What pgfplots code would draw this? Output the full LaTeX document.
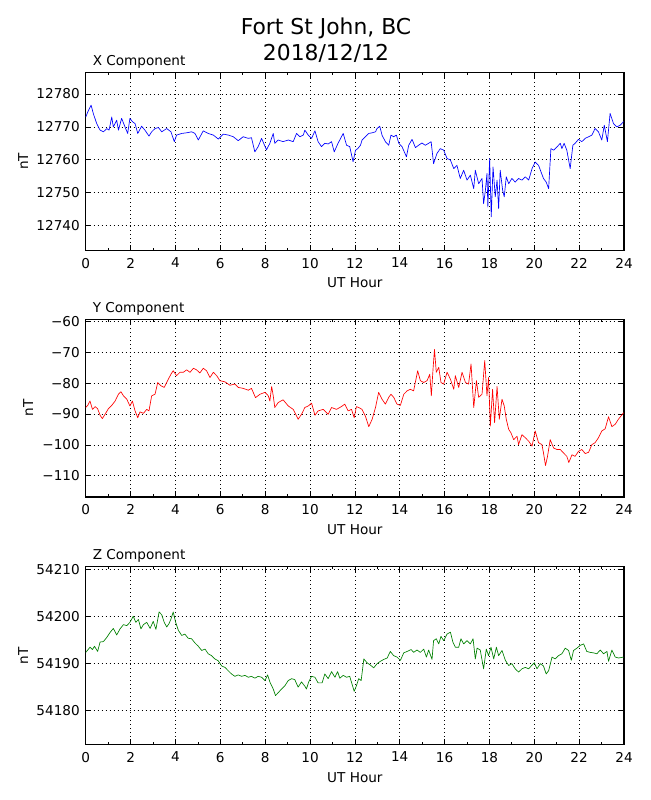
\documentclass[border=0pt]{standalone}
\usepackage{fontspec}
\setmainfont{DejaVu Sans}
\usepackage{pgfplots}
\usepackage{pgfplotstable}
\pgfplotsset{compat=1.18}

\pgfplotstableread{
h v
0.00 12773
0.12 12775
0.24 12776.6
0.34 12774
0.49 12771
0.64 12769
0.79 12768.5
0.94 12769.5
1.04 12769
1.16 12773
1.23 12770
1.38 12772
1.46 12769
1.60 12772.6
1.75 12770
1.87 12768
1.97 12772.6
2.08 12771.6
2.20 12771
2.32 12768
2.49 12770.2
2.64 12769
2.82 12767.2
2.94 12768.5
3.09 12769.5
3.24 12769.8
3.39 12768.5
3.61 12769.5
3.80 12768.5
3.95 12765.5
4.05 12767.5
4.28 12768
4.50 12768.2
4.72 12768.5
4.87 12768
5.02 12766
5.24 12768.8
5.46 12768
5.69 12767.5
5.91 12766.3
6.13 12767.8
6.36 12767.5
6.58 12767
6.80 12765.8
7.02 12767
7.25 12766.5
7.39 12766.7
7.54 12762.4
7.69 12764
7.84 12766.5
8.06 12763
8.21 12765
8.36 12768
8.43 12765
8.58 12766
8.80 12765.5
9.03 12766
9.25 12765.5
9.40 12768
9.55 12767
9.70 12767.5
9.77 12769
9.92 12767.5
10.07 12766.5
10.22 12768.8
10.36 12765.5
10.51 12764
10.66 12765
10.81 12764.8
10.96 12765.5
11.08 12762.4
11.25 12765
11.48 12768
11.63 12764.4
11.77 12764
11.92 12759.4
12.03 12762.9
12.13 12763.4
12.25 12764.4
12.32 12766
12.47 12767
12.62 12768
12.77 12768.2
12.92 12768.5
12.99 12769.5
13.11 12770.2
13.21 12767.5
13.36 12765.5
13.51 12764.4
13.61 12767.5
13.73 12767
13.85 12767.5
13.96 12765
14.10 12764
14.30 12760.9
14.40 12764.4
14.55 12766.2
14.70 12763.7
14.84 12764.4
14.99 12765.1
15.14 12764.4
15.29 12765
15.40 12765.5
15.51 12758.8
15.66 12761.9
15.81 12763.4
15.96 12762.9
16.11 12760.4
16.26 12759.9
16.41 12757.3
16.55 12758.3
16.70 12754.3
16.85 12756.8
17.00 12753.8
17.15 12755.3
17.30 12751.2
17.37 12756.8
17.52 12752.7
17.67 12754.3
17.74 12746.6
17.82 12750.7
17.89 12755.8
17.93 12745.6
18.01 12760.4
18.08 12742.6
18.16 12757.8
18.26 12748.7
18.34 12753.8
18.41 12745.1
18.48 12756.8
18.59 12750.7
18.66 12748.7
18.75 12754.8
18.86 12752.7
19.00 12754.3
19.15 12753.2
19.30 12754.3
19.45 12753.8
19.60 12754.8
19.75 12753.8
19.90 12757.3
20.04 12759.3
20.19 12758.3
20.30 12756.3
20.41 12754.3
20.53 12753.2
20.64 12751.2
20.74 12763.4
20.86 12762.9
21.01 12763.9
21.16 12765
21.23 12763.4
21.33 12765
21.45 12762.9
21.60 12757.3
21.72 12764.4
21.82 12765
21.97 12766.2
22.12 12765.5
22.27 12766.5
22.42 12767
22.57 12767.5
22.71 12769.5
22.86 12768.5
23.01 12766
23.12 12770.5
23.26 12765.5
23.38 12774.1
23.53 12771
23.68 12770
23.83 12770.5
23.98 12771.6
}\datX

\pgfplotstableread{
h v
0.00 -87.9
0.09 -87.2
0.19 -85.8
0.30 -88.5
0.42 -87.6
0.53 -88.3
0.64 -90.4
0.74 -91.5
0.86 -90.1
1.01 -88.3
1.16 -87.2
1.31 -85.8
1.46 -83.6
1.57 -82.8
1.68 -84.1
1.83 -85.2
1.97 -87.4
2.08 -85.8
2.20 -89
2.32 -91.2
2.42 -89.3
2.57 -89.8
2.72 -88.5
2.82 -89
2.94 -84.1
3.09 -83.6
3.21 -79.8
3.36 -80.9
3.50 -81.4
3.65 -79.2
3.80 -77.1
3.90 -76
4.05 -77.6
4.20 -76.5
4.35 -76.5
4.50 -75.7
4.65 -76.5
4.80 -75.2
4.94 -75.7
5.09 -76.7
5.24 -75.2
5.39 -76
5.54 -78.2
5.69 -76.5
5.84 -77.6
5.98 -79.2
6.21 -79.6
6.43 -80.7
6.65 -80.3
6.80 -81.4
7.02 -81.7
7.25 -82.3
7.39 -81.7
7.57 -84.7
7.77 -83.6
7.99 -83
8.14 -84.1
8.21 -85.8
8.29 -81.1
8.36 -84.1
8.43 -87.9
8.58 -86.3
8.80 -85.4
9.03 -87.4
9.25 -88.5
9.47 -91.7
9.62 -90.1
9.77 -87.9
9.92 -87.4
10.07 -86.5
10.22 -90.4
10.36 -89
10.59 -88.5
10.81 -90.1
10.96 -87.9
11.18 -88.5
11.40 -87.6
11.55 -86.8
11.70 -89
11.85 -88.5
11.97 -91.2
12.07 -87.6
12.17 -87.9
12.32 -88.5
12.47 -90.7
12.62 -94.1
12.77 -91.7
12.92 -87.9
13.06 -83
13.21 -85.2
13.36 -86.8
13.51 -84.6
13.61 -83.6
13.73 -84.6
13.88 -86.8
14.03 -87.2
14.18 -83.6
14.33 -82.5
14.47 -82
14.62 -82.5
14.80 -76
14.92 -79.2
15.07 -79.8
15.22 -79.2
15.34 -77.1
15.41 -84.1
15.49 -74.9
15.55 -69.1
15.63 -76.5
15.74 -74.9
15.84 -79.8
15.96 -80.3
16.11 -76.5
16.26 -78.7
16.41 -82
16.48 -77.6
16.63 -81.4
16.78 -76.5
16.93 -79.8
17.07 -80.3
17.18 -73.8
17.30 -87.9
17.42 -79.2
17.52 -84.6
17.67 -83.6
17.79 -72.7
17.89 -84.1
17.96 -78.2
18.04 -93.9
18.14 -82
18.23 -92.8
18.34 -81.1
18.44 -91.7
18.56 -85.2
18.66 -87.4
18.75 -91.7
18.86 -95
18.96 -96.1
19.08 -98.3
19.23 -97.2
19.30 -99.9
19.45 -96.7
19.60 -97.7
19.75 -98.8
19.90 -100.4
20.04 -95.5
20.19 -99.3
20.34 -99.9
20.41 -102.6
20.50 -106.7
20.59 -103.7
20.71 -98.3
20.86 -101
21.01 -101.5
21.16 -101.5
21.30 -102.6
21.45 -103.7
21.54 -105.7
21.68 -103.2
21.82 -103.7
21.97 -102.1
22.12 -101.5
22.27 -102.8
22.42 -102.4
22.57 -99.9
22.71 -99.3
22.86 -97.7
23.01 -95.5
23.16 -94.8
23.31 -90.9
23.46 -94.1
23.61 -93.3
23.75 -91.7
23.98 -89.6
}\datY

\pgfplotstableread{
h v
0.00 54192.3
0.09 54192.8
0.19 54193.4
0.30 54192.9
0.39 54193.6
0.53 54192.5
0.64 54194.5
0.79 54194.6
0.94 54195.5
1.08 54196.5
1.23 54197.4
1.38 54196
1.53 54197.3
1.68 54198.2
1.83 54198
1.97 54198.7
2.12 54200
2.23 54198.7
2.35 54199.3
2.46 54197.3
2.57 54198.2
2.72 54198.7
2.87 54197.4
3.01 54198.9
3.13 54197.2
3.27 54200.9
3.39 54200.3
3.50 54198.7
3.61 54197.7
3.71 54198.4
3.80 54199.4
3.90 54200.9
4.01 54198.7
4.13 54197
4.28 54195.9
4.42 54196.2
4.57 54195.3
4.72 54195.2
4.87 54194.3
5.02 54193.6
5.17 54192.7
5.32 54193
5.46 54192
5.61 54191.6
5.76 54190.9
5.91 54190.5
6.06 54189.4
6.21 54189.1
6.35 54188.4
6.50 54187.7
6.65 54187.2
6.80 54187.5
6.95 54187.2
7.10 54187.4
7.25 54187
7.39 54187.2
7.54 54186.8
7.69 54187.2
7.84 54187
7.99 54186.3
8.11 54187.5
8.21 54186
8.36 54184.5
8.46 54183.1
8.58 54183.7
8.73 54184.5
8.88 54185.2
9.03 54186.3
9.18 54186.7
9.32 54186.5
9.47 54184.9
9.62 54186
9.77 54185.1
9.84 54184.5
9.95 54186.1
10.07 54187.2
10.22 54187
10.36 54185.8
10.54 54185.8
10.66 54187.7
10.81 54186.7
10.96 54188.2
11.11 54187
11.23 54188.2
11.33 54186.8
11.48 54187.4
11.63 54187
11.77 54187.2
11.97 54184
12.07 54185.2
12.17 54186.7
12.28 54186.3
12.40 54190.9
12.54 54190.1
12.69 54189.6
12.84 54189
12.99 54189.9
13.14 54190.4
13.29 54190.8
13.44 54191.1
13.58 54192.5
13.73 54191.6
13.88 54191.3
14.03 54190.6
14.18 54192.2
14.33 54192.5
14.51 54192.9
14.62 54192.3
14.77 54192.8
14.92 54192.3
15.07 54193
15.19 54191.3
15.29 54192.8
15.44 54190.8
15.51 54194.8
15.63 54195.2
15.74 54194.1
15.84 54195.7
15.96 54194.8
16.11 54196.2
16.26 54196.6
16.37 54194.5
16.48 54193.4
16.63 54193.4
16.73 54195.2
16.85 54194.1
17.00 54194.8
17.15 54194.1
17.27 54195.2
17.37 54190.9
17.45 54193.2
17.59 54192.8
17.74 54188.8
17.86 54193
17.96 54191.6
18.07 54193.4
18.19 54190.9
18.31 54193.4
18.41 54191.6
18.56 54192.7
18.71 54190.6
18.86 54189.5
19.00 54189.9
19.15 54188.8
19.30 54188.1
19.45 54188.8
19.60 54189.1
19.75 54188.8
19.90 54189.6
20.00 54190.1
20.12 54188.8
20.27 54189.9
20.41 54189.4
20.53 54187.7
20.64 54188.4
20.79 54191.3
20.93 54190.9
21.08 54191.6
21.23 54192
21.38 54193.2
21.53 54192.7
21.65 54190.6
21.75 54192.7
21.90 54193.2
22.05 54193.8
22.20 54194.1
22.34 54192.5
22.49 54192.3
22.64 54192.2
22.79 54192
22.94 54192.8
23.09 54192
23.24 54192.5
23.31 54190.4
23.46 54192.8
23.61 54191.3
23.76 54191.1
23.98 54191.3
}\datZ

\pgfplotsset{
  panel/.style={
    scale only axis,
    width=403.7pt, height=133.3pt,
    anchor=north west,
    xmin=0, xmax=24,
    xtick={0,2,...,24},
    xticklabels={0,2,4,6,8,10,12,14,16,18,20,22,24},
    minor x tick num=1,
    scaled x ticks=false, scaled y ticks=false,
    tick align=inside,
    xtick pos=both, ytick pos=both,
    major tick length=4.2pt, minor tick length=2.1pt,
    every tick/.style={black, line width=0.55pt},
    axis line style={line width=1pt},
    grid=major,
    major grid style={black, line width=0.55pt, dash pattern=on 0.6pt off 2.4pt},
    tick label style={font=\fontsize{10.2}{12}\selectfont, inner sep=0pt},
    xticklabel style={anchor=north, yshift=-5.5pt},
    yticklabel style={anchor=east, xshift=-4.3pt},
    /pgf/number format/assume math mode=true,
    clip=true,
  },
  dline/.style={line width=0.5pt, line join=round},
}

\begin{document}
\begin{tikzpicture}
\useasboundingbox (0,0) rectangle (487.5pt,-600pt);
\def\lf{\fontsize{10.2}{12}\selectfont}

% Main title
\node[anchor=base, inner sep=0] at (244.5pt,-25.7pt) {\fontsize{16.4}{19}\selectfont Fort St John, BC};
\node[anchor=base, inner sep=0] at (244.5pt,-45.5pt) {\fontsize{16.4}{19}\selectfont 2018/12/12};

% Panel X
\begin{axis}[panel, at={(64.3pt,-54.5pt)},
  ymin=12732.4, ymax=12786.5,
  ytick={12740,12750,12760,12770,12780},
  yticklabels={12740,12750,12760,12770,12780}]
\addplot[dline, color=blue] table[x=h, y=v] {\datX};
\end{axis}
\node[anchor=base west, inner sep=0] at (69.4pt,-48.8pt) {\lf X Component};
\node[anchor=north, inner sep=0] at (266.15pt,-208.3pt) {\lf UT Hour};
\node[anchor=south, rotate=90, inner sep=0] at (21.2pt,-121.1pt) {\lf nT};

% Panel Y
\begin{axis}[panel, at={(64.3pt,-239.5pt)},
  ymin=-116.9, ymax=-59.35,
  ytick={-110,-100,-90,-80,-70,-60},
  yticklabels={−110,−100,−90,−80,−70,−60}]
\addplot[dline, color=red] table[x=h, y=v] {\datY};
\end{axis}
\node[anchor=base west, inner sep=0] at (69.4pt,-234pt) {\lf Y Component};
\node[anchor=north, inner sep=0] at (266.15pt,-393.6pt) {\lf UT Hour};
\node[anchor=south, rotate=90, inner sep=0] at (25pt,-306.1pt) {\lf nT};

% Panel Z
\begin{axis}[panel, at={(64.3pt,-425pt)},
  ymin=54172.7, ymax=54210.55,
  ytick={54180,54190,54200,54210},
  yticklabels={54180,54190,54200,54210}]
\addplot[dline, color={rgb,1:red,0;green,0.5;blue,0}] table[x=h, y=v] {\datZ};
\end{axis}
\node[anchor=base west, inner sep=0] at (69.4pt,-419.3pt) {\lf Z Component};
\node[anchor=north, inner sep=0] at (266.15pt,-579.1pt) {\lf UT Hour};
\node[anchor=south, rotate=90, inner sep=0] at (21.2pt,-491.7pt) {\lf nT};
\end{tikzpicture}
\end{document}
